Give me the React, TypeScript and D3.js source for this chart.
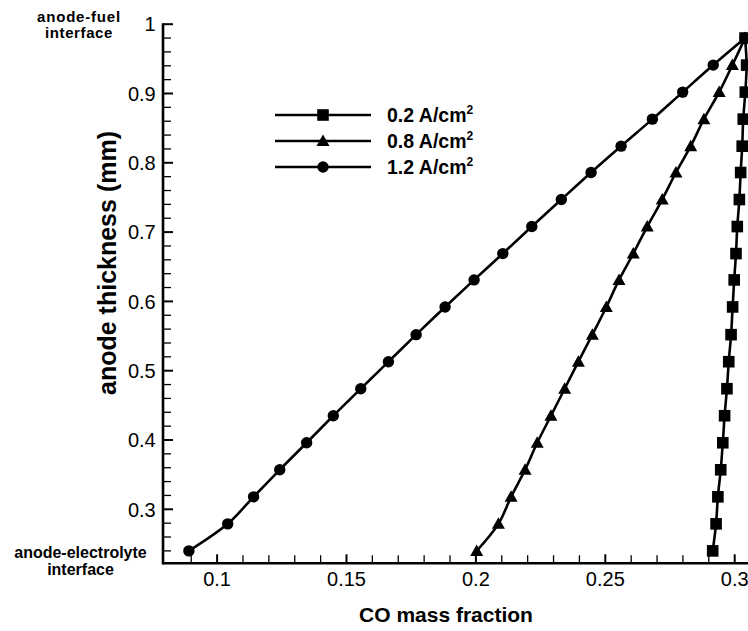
import React from "react";
import * as d3 from "d3";

const yLevels = [0.240, 0.279, 0.318, 0.357, 0.396, 0.435, 0.474, 0.513, 0.552, 0.592, 0.631, 0.669, 0.708, 0.747, 0.786, 0.824, 0.863, 0.902, 0.941, 0.980];
const xLow = [0.2915, 0.2928, 0.2935, 0.2946, 0.2954, 0.2961, 0.2970, 0.2977, 0.2986, 0.2992, 0.2998, 0.3005, 0.3010, 0.3018, 0.3023, 0.3029, 0.3033, 0.3041, 0.3046, 0.3040];
const xMid = [0.2003, 0.2087, 0.2136, 0.2190, 0.2237, 0.2290, 0.2343, 0.2396, 0.2450, 0.2504, 0.2553, 0.2608, 0.2662, 0.2720, 0.2773, 0.2830, 0.2881, 0.2940, 0.2991, 0.3040];
const xHigh = [0.0891, 0.1041, 0.1141, 0.1242, 0.1346, 0.1449, 0.1555, 0.1662, 0.1769, 0.1881, 0.1993, 0.2104, 0.2216, 0.2330, 0.2445, 0.2561, 0.2682, 0.2799, 0.2917, 0.3040];
const seriesNames = ["0.2 A/cm", "0.8 A/cm", "1.2 A/cm"];
const seriesMarkers = ["square", "triangle", "circle"];
const xTickValues = [0.1, 0.15, 0.2, 0.25, 0.3];
const xTickLabels = ["0.1", "0.15", "0.2", "0.25", "0.3"];
const yTickValues = [0.3, 0.4, 0.5, 0.6, 0.7, 0.8, 0.9, 1.0];
const yTickLabels = ["0.3", "0.4", "0.5", "0.6", "0.7", "0.8", "0.9", "1"];
const xMinorValues = [0.09, 0.11, 0.12, 0.13, 0.14, 0.16, 0.17, 0.18, 0.19, 0.21, 0.22, 0.23, 0.24, 0.26, 0.27, 0.28, 0.29];
const yMinorValues = [0.24, 0.26, 0.28, 0.32, 0.34, 0.36, 0.38, 0.42, 0.44, 0.46, 0.48, 0.52, 0.54, 0.56, 0.58, 0.62, 0.64, 0.66, 0.68, 0.72, 0.74, 0.76, 0.78, 0.82, 0.84, 0.86, 0.88, 0.92, 0.94, 0.96, 0.98];

const W = 748;
const H = 631;

function Marker({ type, x, y }: { type: string; x: number; y: number }) {
  if (type === "square") return <rect x={x - 5.8} y={y - 5.8} width={11.6} height={11.6} fill="#000" />;
  if (type === "triangle")
    return <path d={`M${x},${y - 6.5} L${x + 6.5},${y + 5} L${x - 6.5},${y + 5} Z`} fill="#000" />;
  return <circle cx={x} cy={y} r={5.7} fill="#000" />;
}

export default function App() {
  const x = d3.scaleLinear().domain([0.1, 0.3]).range([217.1, 734.7]);
  const y = d3.scaleLinear().domain([0.3, 0.9]).range([509.3, 93.5]);
  const axisX = x(0.0791);
  const axisY = y(0.2221);
  const topY = y(1.0);
  const allX = [xLow, xMid, xHigh];
  const line = d3
    .line<[number, number]>()
    .x((d) => x(d[0]))
    .y((d) => y(d[1]))
    .curve(d3.curveCatmullRom.alpha(0.5));

  const font = "Liberation Sans, Arial, Helvetica, sans-serif";
  const legendY = [115, 141, 167];

  return (
    <svg width={W} height={H} style={{ position: "absolute", left: 0, top: 0, background: "#fff" }} fontFamily={font}>
      <rect x={0} y={0} width={W} height={H} fill="#fff" />
      {/* series */}
      {allX.map((xs, si) => {
        const pts: [number, number][] = xs.map((v, i) => [v, yLevels[i]]);
        return (
          <g key={si}>
            <path d={line(pts) || ""} fill="none" stroke="#000" strokeWidth={2.6} />
            {pts.map((p, i) => (
              <Marker key={i} type={seriesMarkers[si]} x={x(p[0])} y={y(p[1])} />
            ))}
          </g>
        );
      })}
      {/* axes */}
      <line x1={axisX} x2={W + 10} y1={axisY} y2={axisY} stroke="#000" strokeWidth={2.6} />
      <line x1={axisX} x2={axisX} y1={topY - 1} y2={axisY + 1.3} stroke="#000" strokeWidth={2.6} />
      {xTickValues.map((v, i) => (
        <g key={"xt" + i}>
          <line x1={x(v)} x2={x(v)} y1={axisY} y2={axisY - 9} stroke="#000" strokeWidth={2} />
          <text x={x(v)} y={586} textAnchor="middle" fontSize={20}>
            {xTickLabels[i]}
          </text>
        </g>
      ))}
      {xMinorValues.map((v, i) => (
        <line key={"xm" + i} x1={x(v)} x2={x(v)} y1={axisY} y2={axisY - 8} stroke="#000" strokeWidth={1.3} />
      ))}
      {yTickValues.map((v, i) => (
        <g key={"yt" + i}>
          <line x1={axisX} x2={axisX + 10} y1={y(v)} y2={y(v)} stroke="#000" strokeWidth={2} />
          <text x={155.7} y={y(v)} dy="0.36em" textAnchor="end" fontSize={20}>
            {yTickLabels[i]}
          </text>
        </g>
      ))}
      {yMinorValues.map((v, i) => (
        <line key={"ym" + i} x1={axisX} x2={axisX + 8} y1={y(v)} y2={y(v)} stroke="#000" strokeWidth={1.3} />
      ))}
      {/* axis titles */}
      <text x={446} y={622} textAnchor="middle" fontSize={21} fontWeight="bold">
        CO mass fraction
      </text>
      <text
        transform={`translate(116,${263}) rotate(-90)`}
        textAnchor="middle"
        fontSize={25}
        fontWeight="bold"
      >
        anode thickness (mm)
      </text>
      {/* annotations */}
      <text x={79} y={21.5} textAnchor="middle" fontSize={15} letterSpacing={0.8} fontWeight="bold">
        anode-fuel
      </text>
      <text x={79} y={37.8} textAnchor="middle" fontSize={15} letterSpacing={0.6} fontWeight="bold">
        interface
      </text>
      <text x={80.5} y={558.3} textAnchor="middle" fontSize={16} fontWeight="bold">
        anode-electrolyte
      </text>
      <text x={80.5} y={575} textAnchor="middle" fontSize={16} fontWeight="bold">
        interface
      </text>
      {/* legend */}
      {seriesNames.map((name, i) => (
        <g key={"lg" + i}>
          <line x1={275} x2={371} y1={legendY[i]} y2={legendY[i]} stroke="#000" strokeWidth={2.6} />
          <Marker type={seriesMarkers[i]} x={323} y={legendY[i]} />
          <text x={387} y={legendY[i] + 7} fontSize={19.5} fontWeight="bold">
            {name}
            <tspan fontSize={12} dy={-8}>
              2
            </tspan>
          </text>
        </g>
      ))}
    </svg>
  );
}
